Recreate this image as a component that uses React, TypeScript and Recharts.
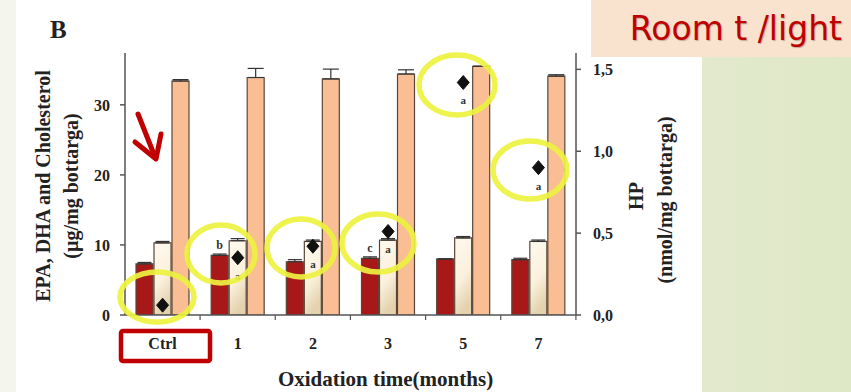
import { ComposedChart, Bar, Scatter, XAxis, YAxis, ErrorBar, LabelList } from "recharts";

const months = ["Ctrl", "1", "2", "3", "5", "7"];
const epaValues = [7.3, 8.5, 7.6, 8.1, 8.0, 7.9];
const epaErrors = [0.2, 0.2, 0.3, 0.2, 0, 0.2];
const dhaValues = [10.3, 10.6, 10.5, 10.7, 11.0, 10.5];
const dhaErrors = [0.2, 0.3, 0.2, 0.2, 0.2, 0.2];
const cholValues = [33.4, 33.9, 33.7, 34.4, 35.5, 34.1];
const cholErrors = [0.2, 1.3, 1.4, 0.6, 0, 0.2];
const hpValues = [0.06, 0.35, 0.42, 0.51, 1.42, 0.9];
const hpLetters = ["", "a", "a", "a", "a", "a"];
const epaLetters = ["", "b", "", "c", "", ""];
const leftTicks = [0, 10, 20, 30];
const rightTicks = [0, 0.5, 1, 1.5];

const data = months.map((month, i) => ({
  month,
  epa: epaValues[i],
  epaErr: [0, epaErrors[i]],
  epaLetter: epaLetters[i],
  dha: dhaValues[i],
  dhaErr: [0, dhaErrors[i]],
  chol: cholValues[i],
  cholErr: [0, cholErrors[i]],
  hp: hpValues[i],
  hpLetter: hpLetters[i],
}));

const serif = '"Liberation Serif", "Times New Roman", serif';
const axisColor = "#555";
const barEdge = "#5a4638";

const tickStyle = { fontFamily: serif, fontSize: 16, fontWeight: 700, fill: "#222" };

function MonthTick(props: any) {
  const { x, y, payload } = props;
  const axisY = y - 23;
  return (
    <g>
      <line x1={x + 37.5} x2={x + 37.5} y1={axisY} y2={axisY + 5} stroke={axisColor} strokeWidth={1.2} />
      <text x={x} y={y} dy="0.71em" textAnchor="middle" {...tickStyle}>
        {payload.value}
      </text>
    </g>
  );
}

function Diamond(props: any) {
  const { cx, cy, payload } = props;
  if (cx == null || cy == null) return null;
  return (
    <g>
      <polygon
        points={`${cx},${cy - 7} ${cx + 6},${cy} ${cx},${cy + 7} ${cx - 6},${cy}`}
        fill="#111"
        stroke="#111"
        strokeWidth={1}
      />
      {payload.hpLetter ? (
        <text x={cx} y={cy + 18} textAnchor="middle" dominantBaseline="central" fontFamily={serif} fontWeight={700} fontSize={11} fill="#333">
          {payload.hpLetter}
        </text>
      ) : null}
    </g>
  );
}

function LeftTitle(props: any) {
  const vb = props.viewBox;
  const cy = vb.y + vb.height / 2 + 2;
  const x1 = vb.x - 22;
  const x2 = vb.x + 6;
  return (
    <g fontFamily={serif} fontWeight={700} fontSize={20} fill="#222">
      <text x={x1} y={cy} textAnchor="middle" dominantBaseline="central" transform={`rotate(-90, ${x1}, ${cy})`}>
        EPA, DHA and Cholesterol
      </text>
      <text x={x2} y={cy} textAnchor="middle" dominantBaseline="central" transform={`rotate(-90, ${x2}, ${cy})`}>
        (µg/mg bottarga)
      </text>
    </g>
  );
}

function RightTitle(props: any) {
  const vb = props.viewBox;
  const x1 = vb.x + 60;
  const x2 = vb.x + 89;
  const cy1 = vb.y + vb.height / 2 + 12;
  const cy2 = vb.y + vb.height / 2 + 16;
  return (
    <g fontFamily={serif} fontWeight={700} fontSize={20} fill="#222">
      <text x={x1} y={cy1} textAnchor="middle" dominantBaseline="central" transform={`rotate(-90, ${x1}, ${cy1})`}>
        HP
      </text>
      <text x={x2} y={cy2} textAnchor="middle" dominantBaseline="central" transform={`rotate(-90, ${x2}, ${cy2})`}>
        (nmol/mg bottarga)
      </text>
    </g>
  );
}

function BottomTitle(props: any) {
  const vb = props.viewBox;
  return (
    <text x={vb.x + vb.width / 2 + 35} y={vb.y + 71} textAnchor="middle" fontFamily={serif} fontWeight={700} fontSize={21} fill="#222">
      Oxidation time(months)
    </text>
  );
}

export default function App() {
  return (
    <div style={{ position: "absolute", left: 0, top: 0, width: 851, height: 392, background: "#fff", overflow: "hidden" }}>
      <div style={{ position: "absolute", left: 0, top: 0, width: 16, height: 392, background: "#f4f6ee" }} />
      <div style={{ position: "absolute", left: 702, top: 57, width: 149, height: 335, background: "linear-gradient(90deg, #e2e9cd, #dfe8c6)" }} />
      <div
        style={{
          position: "absolute",
          left: 591,
          top: 0,
          width: 260,
          height: 57,
          background: "#f9e3cf",
          color: "#c00000",
          fontFamily: '"DejaVu Sans", Verdana, sans-serif',
          fontSize: 33,
          lineHeight: "57px",
          textAlign: "right",
          paddingRight: 9,
          boxSizing: "border-box",
          textShadow: "1px 1px 1px rgba(0,0,0,0.25)",
        }}
      >
        Room t /light
      </div>

      <div style={{ position: "absolute", left: 0, top: 0 }}>
        <ComposedChart width={851} height={392} data={data} margin={{ top: 53, right: 215, left: 65, bottom: 47 }} barSize={17} barGap={1}>
          <defs>
            <linearGradient id="dhaFill" x1="0" y1="0" x2="0.3" y2="1">
              <stop offset="0%" stopColor="#fffaf0" />
              <stop offset="60%" stopColor="#faf0dc" />
              <stop offset="100%" stopColor="#e4d2ae" />
            </linearGradient>
          </defs>
          <XAxis
            dataKey="month"
            tick={<MonthTick />}
            tickLine={false}
            tickSize={6}
            tickMargin={17}
            height={30}
            stroke={axisColor}
            strokeWidth={1.5}
            interval={0}
            label={{ content: <BottomTitle /> }}
          />
          <YAxis
            yAxisId="left"
            domain={[0, 37.4]}
            ticks={leftTicks}
            width={60}
            tickSize={5}
            tickMargin={10}
            stroke={axisColor}
            strokeWidth={1.5}
            tick={tickStyle}
            allowDataOverflow
            label={{ content: <LeftTitle /> }}
          />
          <YAxis
            yAxisId="right"
            orientation="right"
            domain={[0, 1.6]}
            ticks={rightTicks}
            width={60}
            tickSize={5}
            tickMargin={12}
            stroke={axisColor}
            strokeWidth={1.5}
            tick={{ ...tickStyle, textAnchor: "start" }}
            tickFormatter={(v: number) => v.toFixed(1).replace(".", ",")}
            allowDataOverflow
            label={{ content: <RightTitle /> }}
          />
          <Bar yAxisId="left" dataKey="epa" fill="#a81818" stroke={barEdge} strokeWidth={1.2} isAnimationActive={false}>
            <ErrorBar dataKey="epaErr" direction="y" width={7} stroke="#333" strokeWidth={1.2} />
            <LabelList dataKey="epaLetter" position="top" offset={6} style={{ fontFamily: serif, fontWeight: 700, fontSize: 12, fill: "#333" }} />
          </Bar>
          <Bar yAxisId="left" dataKey="dha" fill="url(#dhaFill)" stroke={barEdge} strokeWidth={1.2} isAnimationActive={false}>
            <ErrorBar dataKey="dhaErr" direction="y" width={7} stroke="#333" strokeWidth={1.2} />
          </Bar>
          <Bar yAxisId="left" dataKey="chol" fill="#f9be93" stroke={barEdge} strokeWidth={1.2} isAnimationActive={false}>
            <ErrorBar dataKey="cholErr" direction="y" width={8} stroke="#333" strokeWidth={1.2} />
          </Bar>
          <Scatter yAxisId="right" dataKey="hp" shape={<Diamond />} isAnimationActive={false} />
        </ComposedChart>
      </div>

      {/* slide annotations on top of the figure */}
      <svg width={851} height={392} style={{ position: "absolute", left: 0, top: 0, pointerEvents: "none" }}>
        <text x={50} y={38} fontFamily={serif} fontWeight={700} fontSize={25} fill="#222">
          B
        </text>
        <g fill="none" stroke="#eef240" strokeWidth={5.5} opacity={0.92}>
          <ellipse cx={157} cy={297} rx={37} ry={25} />
          <ellipse cx={221} cy={254} rx={34} ry={29} />
          <ellipse cx={301} cy={248} rx={34} ry={29} />
          <ellipse cx={378} cy={243} rx={36} ry={29} />
          <ellipse cx={457} cy={85} rx={38} ry={30} />
          <ellipse cx={530} cy={170} rx={37} ry={29} />
        </g>
        <g fill="none" stroke="#c00000" strokeWidth={5} strokeLinecap="round" strokeLinejoin="round">
          <line x1={138} y1={114} x2={155} y2={157} />
          <polyline points="135,142 156,159 161,134" />
        </g>
        <rect x={121} y={331} width={89} height={30} rx={2} fill="none" stroke="#c00000" strokeWidth={4.5} />
      </svg>
    </div>
  );
}
